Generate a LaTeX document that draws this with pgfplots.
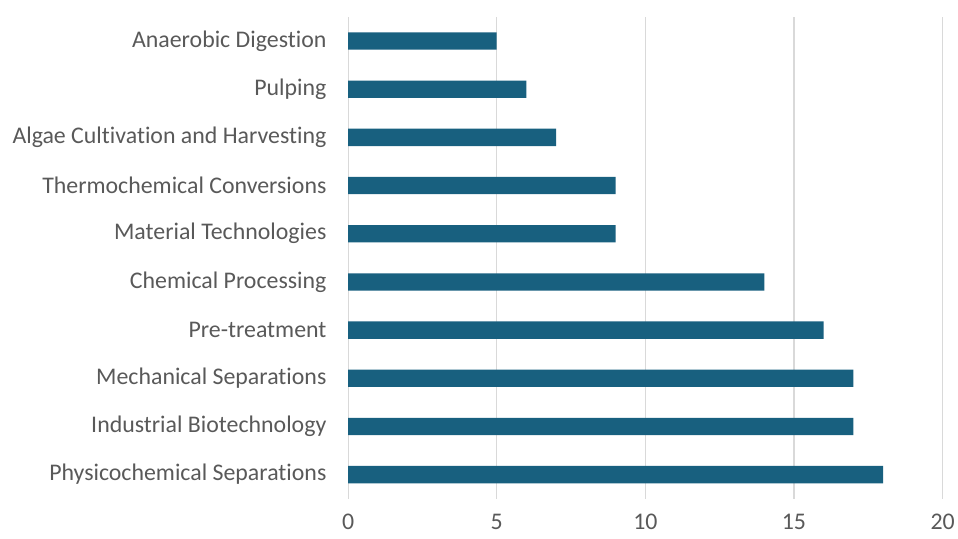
\documentclass[border=0pt]{standalone}
\usepackage{pgfplots}
\pgfplotsset{compat=1.18}
\usepackage{fontspec}
\setmainfont{Carlito}[Ligatures=NoCommon]
\definecolor{barc}{HTML}{18607F}
\definecolor{txt}{HTML}{595959}
\definecolor{gridc}{HTML}{D9D9D9}
\begin{document}
\begin{tikzpicture}
\begin{axis}[
  at={(0,0)}, anchor=south west,
  scale only axis,
  width=596bp, height=483bp,
  xbar, bar width=0.36,
  xmin=0, xmax=20,
  ymin=-0.5, ymax=9.5,
  xtick={0,5,10,15,20},
  ytick={0,...,9},
  yticklabels={Physicochemical Separations,Industrial Biotechnology,Mechanical Separations,Pre-treatment,Chemical Processing,Material Technologies,Thermochemical Conversions,Algae Cultivation and Harvesting,Pulping,Anaerobic Digestion},
  axis line style={draw=none},
  tick style={draw=none},
  xmajorgrids, grid style={gridc, line width=1.2bp},
  ticklabel style={font=\fontsize{24}{27}\selectfont, text=txt},
  yticklabel style={xshift=-14bp},
  xticklabel style={yshift=-12bp},
  /pgf/number format/assume math mode=true,
]
\addplot[fill=barc, draw=none] coordinates {(18,0) (17,1) (17,2) (16,3) (14,4) (9,5) (9,6) (7,7) (6,8) (5,9)};
\end{axis}
\useasboundingbox (-349bp,-40bp) rectangle (609bp,500bp);
\end{tikzpicture}
\end{document}
